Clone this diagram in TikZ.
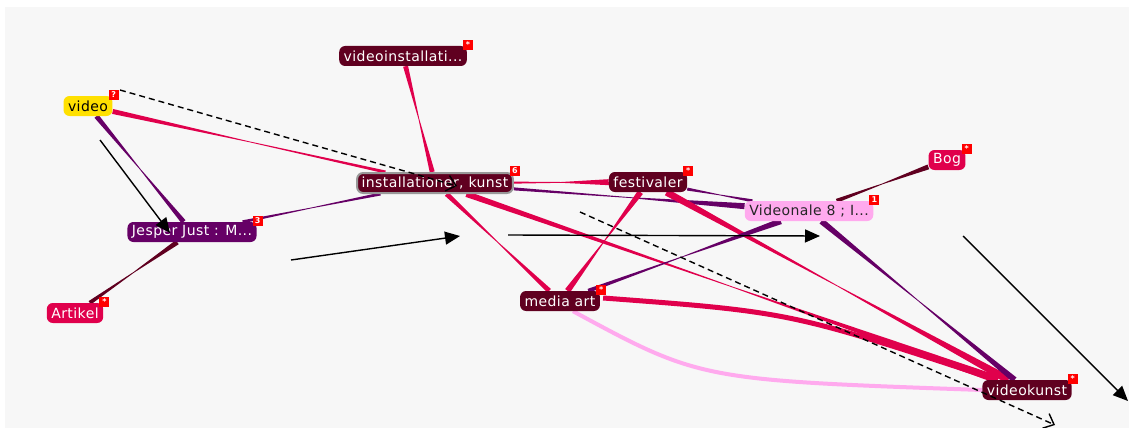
\documentclass[tikz,border=0pt]{standalone}
\usepackage{fontspec}
\setmainfont[LetterSpace=3]{DejaVu Sans}
\usetikzlibrary{calc,arrows.meta}

\definecolor{bg}{RGB}{247,247,247}
\definecolor{maroon}{RGB}{96,0,32}
\definecolor{rose}{RGB}{224,0,76}
\definecolor{plum}{RGB}{102,0,102}
\definecolor{blush}{RGB}{255,170,238}
\definecolor{gold}{RGB}{255,224,0}

\pgfdeclarelayer{links}
\pgfsetlayers{links,main}

\tikzset{
  tag/.style={rounded corners=6pt, minimum height=20pt, inner xsep=4.5pt, inner ysep=0pt,
    text=white, fill=maroon, font=\fontsize{14}{15}\selectfont},
  badge/.style={fill=red, text=white, minimum size=10pt, inner sep=0pt,
    font=\fontsize{8}{8}\selectfont\bfseries},
  note/.style={black, line width=1.4pt, -{Triangle[length=15pt,width=13pt]}},
  guess/.style={black, line width=1.4pt, dash pattern=on 6pt off 4pt,
    -{Straight Barb[length=9pt,width=16pt]}},
}

% tapered link: colour, from, to, half width at from, half width at to
\newcommand{\taper}[5]{%
  \path (#2) -- (#3) coordinate[pos=0] (ta) coordinate[pos=0.5] (tm) coordinate[pos=1] (tb);
  \fill[#1] ($(ta)!#4!90:(tb)$) -- ($(tm)!0.4pt!90:(tb)$) -- ($(tb)!#5!-90:(ta)$)
    -- ($(tb)!#5!90:(ta)$) -- ($(tm)!0.4pt!-90:(tb)$) -- ($(ta)!#4!-90:(tb)$) -- cycle;
}

\begin{document}
\begin{tikzpicture}[x=1pt,y=-1pt]
  \useasboundingbox (0,0) rectangle (1129,428);

  \node[tag] (vinst) at (403,56) {videoinstallati...};
  \node[tag, fill=gold, text=black] (video) at (88,106) {video};
  \node[tag, draw=gray!80, line width=2pt] (inst) at (435,183) {installationer, kunst};
  \node[tag] (fest) at (648,182) {festivaler};
  \node[tag, fill=rose] (bog) at (947,160) {Bog};
  \node[tag, fill=blush, text=black!85] (vnale) at (809,211) {Videonale 8 ; I...};
  \node[tag, fill=plum] (jesper) at (192,232) {Jesper Just : M...};
  \node[tag, fill=rose] (artikel) at (75,313) {Artikel};
  \node[tag] (media) at (560,301) {media art};
  \node[tag] (vkunst) at (1027,390) {videokunst};

  \node[badge] (b-vinst) at ([xshift=1pt,yshift=1pt]vinst.north east) {*};
  \node[badge] (b-video) at ([xshift=1pt,yshift=1pt]video.north east) {?};
  \node[badge] (b-inst) at ([xshift=1pt,yshift=1pt]inst.north east) {6};
  \node[badge] (b-fest) at ([xshift=1pt,yshift=1pt]fest.north east) {*};
  \node[badge] (b-bog) at ([xshift=1pt,yshift=1pt]bog.north east) {*};
  \node[badge] (b-vnale) at ([xshift=1pt,yshift=1pt]vnale.north east) {1};
  \node[badge] (b-jesper) at ([xshift=1pt,yshift=1pt]jesper.north east) {3};
  \node[badge] (b-artikel) at ([xshift=1pt,yshift=1pt]artikel.north east) {*};
  \node[badge] (b-media) at ([xshift=1pt,yshift=1pt]media.north east) {*};
  \node[badge] (b-vkunst) at ([xshift=1pt,yshift=1pt]vkunst.north east) {*};

  \begin{pgfonlayer}{links}
    \fill[bg] (5,7) rectangle (1129,428);
    \taper{plum}{video}{jesper}{2.5pt}{2.5pt}
    \taper{rose}{video}{inst}{2.5pt}{1.5pt}
    \taper{maroon}{jesper}{artikel}{2.5pt}{2pt}
    \taper{plum}{jesper}{inst}{1.5pt}{1.5pt}
    \taper{rose}{vinst}{inst}{2.5pt}{2.5pt}
    \taper{rose}{inst}{fest}{1pt}{3pt}
    \taper{plum}{inst}{vnale}{1.5pt}{3pt}
    \taper{plum}{fest}{vnale}{1.5pt}{1.5pt}
    \taper{rose}{inst}{media}{2.5pt}{2.5pt}
    \taper{rose}{inst}{vkunst}{3pt}{4pt}
    \taper{rose}{fest}{media}{3pt}{3pt}
    \taper{rose}{fest}{vkunst}{3.5pt}{4pt}
    \taper{plum}{vnale}{media}{3pt}{2pt}
    \taper{plum}{vnale}{vkunst}{3pt}{3pt}
    \taper{maroon}{bog}{vnale}{2.5pt}{2pt}
    \draw[rose, line width=5pt] ([shift={(3,-3)}]media.east) .. controls (790,312) .. ([xshift=14pt]vkunst.north west);
    \draw[blush, line width=4pt] ([xshift=13pt]media.south) .. controls (700,380) .. (vkunst.west);
  \end{pgfonlayer}

  \coordinate (a1s) at (100,140);
  \coordinate (a1e) at (170,233);
  \coordinate (a2s) at (291,260);
  \coordinate (a2e) at (460,236);
  \coordinate (a3s) at (508,235);
  \coordinate (a3e) at (820,236);
  \coordinate (a4s) at (963,236);
  \coordinate (a4e) at (1128,401);
  \coordinate (d1s) at (120,90);
  \coordinate (d1e) at (457,186);
  \coordinate (d2s) at (580,212);
  \coordinate (d2e) at (1055,425);

  \draw[note] (a1s) -- (a1e);
  \draw[note] (a2s) -- (a2e);
  \draw[note] (a3s) -- (a3e);
  \draw[note] (a4s) -- (a4e);
  \draw[guess] (d1s) -- (d1e);
  \draw[guess] (d2s) -- (d2e);
\end{tikzpicture}
\end{document}
